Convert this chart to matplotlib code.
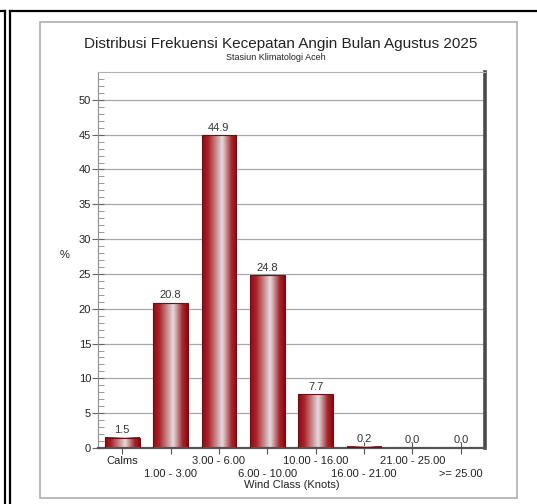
import numpy as np
import matplotlib.pyplot as plt
from matplotlib.colors import LinearSegmentedColormap
from matplotlib.lines import Line2D
from matplotlib.patches import Rectangle

plt.rcParams['font.family'] = ['Liberation Sans', 'DejaVu Sans']

categories = ['Calms', '1.00 - 3.00', '3.00 - 6.00', '6.00 - 10.00',
              '10.00 - 16.00', '16.00 - 21.00', '21.00 - 25.00', '>= 25.00']
freq = [1.5, 20.8, 44.9, 24.8, 7.7, 0.2, 0.0, 0.0]

W, H = 537, 504
fig = plt.figure(figsize=(W / 100, H / 100), dpi=100)
fig.patch.set_facecolor('white')


def px_line(x0, y0, x1, y1, **kw):
    # coordinates in image pixels (origin top-left)
    fig.add_artist(Line2D([x0 / W, x1 / W], [1 - y0 / H, 1 - y1 / H],
                          transform=fig.transFigure, **kw))


# outer frames
px_line(0, 11, 5, 11, color='black', lw=1.6)
px_line(5, 11, 5, H, color='black', lw=1.6)
px_line(10, H, 10, 11, color='black', lw=1.6)
px_line(10, 11, W, 11, color='black', lw=1.6)
fig.add_artist(Rectangle((40 / W, 1 - 498 / H), (517 - 40) / W, (498 - 22) / H,
                         transform=fig.transFigure, fill=False,
                         edgecolor='#b4b4b4', lw=1.3))

left, right, top, bottom = 98, 485, 72, 448
ax = fig.add_axes([left / W, 1 - bottom / H, (right - left) / W, (bottom - top) / H])

x = np.arange(len(categories))
bw = 0.72

cmap = LinearSegmentedColormap.from_list(
    'bar', [(0.0, '#8e0a10'), (0.18, '#a8242a'), (0.58, '#e2dcdc'),
            (0.85, '#a4272c'), (1.0, '#8a080e')])
grad = np.linspace(0, 1, 256).reshape(1, -1)

ax.bar(x, freq, width=bw, facecolor='none', edgecolor='#7a0a0e', lw=0.8, zorder=3)
for xi, v in zip(x, freq):
    if v > 0:
        ax.imshow(grad, cmap=cmap, aspect='auto', interpolation='bilinear',
                  extent=[xi - bw / 2, xi + bw / 2, 0, v], zorder=2)
    ax.text(xi, v + 0.4, f'{v:.1f}', ha='center', va='bottom',
            fontsize=8, color='#333333', zorder=4)

ax.set_xlim(-0.5, 7.5)
ax.set_ylim(0, 54)

ax.set_yticks(np.arange(0, 51, 5))
ax.set_yticks(np.arange(0, 54, 1), minor=True)
ax.grid(axis='y', which='major', color='#a8a8a8', lw=0.9, zorder=0)

# labels alternate between two rows: even on major ticks, odd on minor ticks
ax.set_xticks(x[::2])
ax.set_xticklabels(categories[::2])
ax.set_xticks(x[1::2], minor=True)
ax.set_xticklabels(categories[1::2], minor=True)

ax.tick_params(axis='x', which='both', direction='inout', length=9, width=0.8,
               color='#555555', labelsize=8, labelcolor='#222222')
ax.tick_params(axis='x', which='major', pad=1)
ax.tick_params(axis='x', which='minor', pad=10.5)
ax.tick_params(axis='y', which='major', direction='inout', length=8, width=0.8,
               color='#666666', labelsize=8, labelcolor='#222222', pad=1)
ax.tick_params(axis='y', which='minor', direction='in', length=4, width=0.6,
               color='#888888')

ax.set_xlabel('Wind Class (Knots)', fontsize=8, color='#222222', labelpad=1)
ax.set_ylabel('%', fontsize=8, color='#222222', rotation=0, labelpad=10)

ax.spines['top'].set_color('#b0b0b0')
ax.spines['left'].set_color('#909090')
ax.spines['bottom'].set_color('#555555')
ax.spines['bottom'].set_linewidth(1.6)
ax.spines['right'].set_color('#4a4a4a')
ax.spines['right'].set_linewidth(2.6)

fig.text(281 / W, 1 - 44 / H, 'Distribusi Frekuensi Kecepatan Angin Bulan Agustus 2025',
         ha='center', va='center', fontsize=11, color='#222222')
fig.text(276 / W, 1 - 58 / H, 'Stasiun Klimatologi Aceh',
         ha='center', va='center', fontsize=6.5, color='#222222')

fig.savefig('out.png', dpi=100)
